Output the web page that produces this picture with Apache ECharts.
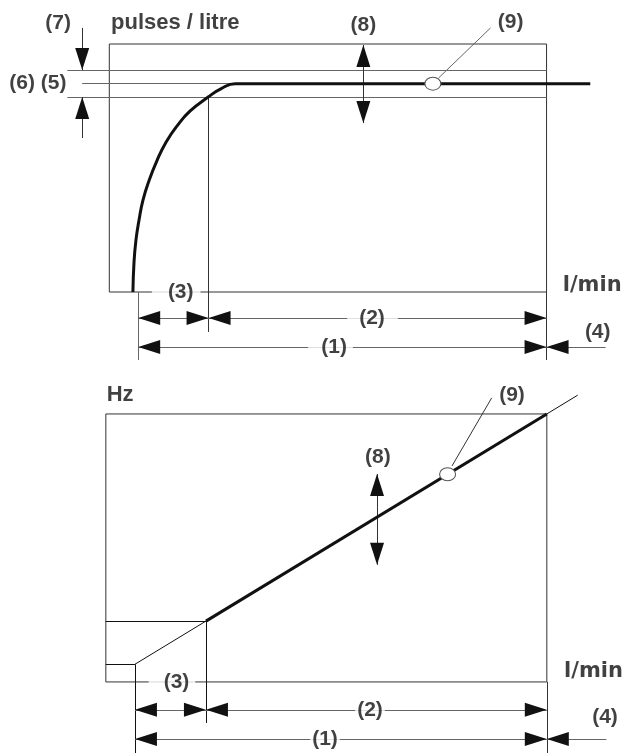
<!DOCTYPE html>
<html lang="en">
<head>
<meta charset="UTF-8">
<title>K-factor / frequency characteristic</title>
<style>
  html, body { margin: 0; height: 100%; background: #fff; }
  #main { width: 627px; height: 753px; }
</style>
<script src="https://cdn.jsdelivr.net/npm/echarts@6/dist/echarts.min.js"></script>
</head>
<body>
<div id="main"></div>
<script>
// flow in % of the box width (0 = left edge, 100 = Qmax)
const qMin = 6.6, qLin = 22.7, qMax = 100, qOver = 113.5

// upper chart: pulses / litre against flow
const kFlow = [5.4, 5.65, 6.1, 6.8, 7.7, 9.1, 10.9, 13, 15.5, 18.5, 22.6, 25.6, 28.8, 40, 110]
const kValue = [0, 12, 21, 29, 37, 45, 53, 60.5, 67, 73, 78.6, 82, 84, 84, 84]
const kNominal = 84, kHigh = 89.5, kLow = 78.6
const kCalib = [74, 84]

// lower chart: Hz against flow (thin - thick - thin)
const hzFlow = [6.6, 22.7, 100, 107]
const hzValue = [6.6, 22.7, 100, 107]
const hzCalib = [77.5, 77.5]

const box = [[0, 0], [0, 100], [100, 100], [100, 0], [0, 0]]

const DARK = '#333', GRAY = '#666', INK = '#111'
const FONT = 'Liberation Sans'

const seg = (x1, y1, x2, y2, color) => [{ coord: [x1, y1], lineStyle: { color } }, { coord: [x2, y2] }]
const ARROW = { left: [90, [11, 0]], right: [-90, [-11, 0]], up: [0, [0, 11]], down: [180, [0, -11]] }
const tip = (x, y, dir) => ({ value: [x, y], symbolRotate: ARROW[dir][0], symbolOffset: ARROW[dir][1] })
const text = (name, x, y, label) => ({ name, value: [x, y], label: label || {} })
const gap = (l, r) => ({ backgroundColor: '#fff', padding: [1, r, 1, l] })
const pairs = (xs, ys) => xs.map((x, i) => [x, ys[i]])

const topGuides = [
  seg(-9.6, kHigh, qMax, kHigh, GRAY),
  seg(-9.6, kLow, qMax, kLow, GRAY),
  seg(-6.2, kNominal, 28.8, kNominal, GRAY),
  seg(qLin, kLow, qLin, -16.1, DARK),
  seg(qMin, 0, qMin, -27.4, GRAY),
  seg(qMax, 0, qMax, -27.4, DARK),
  seg(qMin, -10.5, qMax, -10.5, GRAY),
  seg(qMin, -22.2, qMax, -22.2, GRAY),
  seg(qMax, -22.2, qOver, -22.2, GRAY),
  seg(-6.2, 106.5, -6.2, kHigh, DARK),
  seg(-6.2, 62.1, -6.2, kLow, DARK),
  seg(58.1, 99.6, 58.1, 68.1, DARK),
  seg(75.3, 86.3, 87.2, 106.5, GRAY)
]
const topArrows = [
  tip(qMin, -10.5, 'left'), tip(qLin, -10.5, 'right'),
  tip(qLin, -10.5, 'left'), tip(qMax, -10.5, 'right'),
  tip(qMin, -22.2, 'left'), tip(qMax, -22.2, 'right'),
  tip(qMax, -22.2, 'left'),
  tip(-6.2, kHigh, 'down'), tip(-6.2, kLow, 'up'),
  tip(58.1, 99.6, 'up'), tip(58.1, 68.1, 'down')
]
const topTexts = [
  text('pulses / litre', 0.4, 108.5, { align: 'left', fontSize: 22 }),
  text('l/min', 103.7, 2.8, { align: 'left', fontFamily: 'DejaVu Sans', fontSize: 21 }),
  text('(7)', -11.7, 108.5),
  text('(6) (5)', -9.8, kNominal, { align: 'right' }),
  text('(8)', 58.1, 107.7),
  text('(9)', 91.8, 108.9),
  text('(3)', 15.3, 0, gap(16, 7)),
  text('(2)', 60.2, -10.5, gap(12, 13)),
  text('(1)', 50.6, -22.2, gap(13, 6)),
  text('(4)', 111.7, -16.1)
]

const bottomGuides = [
  seg(0, hzValue[1], qLin, hzValue[1], INK),
  seg(0, hzValue[0], qMin, hzValue[0], INK),
  seg(qLin, hzValue[1], qLin, -15.3, INK),
  seg(qMin, hzValue[0], qMin, -27, INK),
  seg(qMax, 0, qMax, -27, DARK),
  seg(qMin, -10.4, qMax, -10.4, GRAY),
  seg(qMin, -21.3, qMax, -21.3, GRAY),
  seg(qMax, -21.3, qOver, -21.3, GRAY),
  seg(61.5, 77.6, 61.5, 43.7, DARK),
  seg(78.5, 80.6, 87.5, 106, DARK)
]
const bottomArrows = [
  tip(qMin, -10.4, 'left'), tip(qLin, -10.4, 'right'),
  tip(qLin, -10.4, 'left'), tip(qMax, -10.4, 'right'),
  tip(qMin, -21.3, 'left'), tip(qMax, -21.3, 'right'),
  tip(qMax, -21.3, 'left'),
  tip(61.5, 77.6, 'up'), tip(61.5, 43.7, 'down')
]
const bottomTexts = [
  text('Hz', 0.2, 107.1, { align: 'left', fontSize: 22 }),
  text('l/min', 103.9, 3.7, { align: 'left', fontFamily: 'DejaVu Sans', fontSize: 21 }),
  text('(8)', 61.7, 84),
  text('(9)', 92.1, 107.1),
  text('(3)', 15, 0, gap(15, 6)),
  text('(2)', 59.9, -10.4, gap(2, 2)),
  text('(1)', 49.7, -21.3, gap(2, 2)),
  text('(4)', 113.2, -13.1)
]

function chartSeries (i, guides, arrows, texts, calib) {
  return [
    {
      type: 'line', xAxisIndex: i, yAxisIndex: i, data: box, symbol: 'none', clip: false, silent: true,
      lineStyle: { color: DARK, width: 1 },
      markLine: {
        silent: true, symbol: 'none', label: { show: false },
        lineStyle: { type: 'solid', width: 1, color: GRAY },
        data: guides
      }
    },
    {
      type: 'scatter', xAxisIndex: i, yAxisIndex: i, data: arrows, silent: true, z: 8,
      symbol: 'triangle', symbolSize: [14, 22], itemStyle: { color: INK, opacity: 1 }
    },
    {
      type: 'scatter', xAxisIndex: i, yAxisIndex: i, data: [calib], silent: true, z: 12,
      symbol: 'circle', symbolSize: [16, 13],
      itemStyle: { color: '#fff', borderColor: '#555', borderWidth: 1, opacity: 1 }
    },
    {
      type: 'scatter', xAxisIndex: i, yAxisIndex: i, data: texts, silent: true, z: 20,
      symbolSize: 1, itemStyle: { color: 'transparent' },
      label: {
        show: true, position: 'inside', formatter: '{b}', color: INK,
        fontFamily: FONT, fontWeight: 'bold', fontSize: 21
      }
    }
  ]
}

const myChart = echarts.init(document.getElementById('main'), null, { renderer: 'canvas' })

myChart.setOption({
  animation: false,
  backgroundColor: '#fff',
  grid: [
    { left: 0, top: 6.8, width: 634, height: 359.6, outerBoundsMode: 'none' },
    { left: 0, top: 381.8, width: 630.6, height: 372.5, outerBoundsMode: 'none' }
  ],
  xAxis: [
    { gridIndex: 0, type: 'value', min: -25, max: 120, show: false },
    { gridIndex: 1, type: 'value', min: -24, max: 119, show: false }
  ],
  yAxis: [
    { gridIndex: 0, type: 'value', min: -30, max: 115, show: false },
    { gridIndex: 1, type: 'value', min: -27, max: 112, show: false }
  ],
  series: [
    ...chartSeries(0, topGuides, topArrows, topTexts, kCalib),
    {
      type: 'line', xAxisIndex: 0, yAxisIndex: 0, data: pairs(kFlow, kValue),
      symbol: 'none', smooth: 0.5, clip: false, silent: true, z: 5,
      lineStyle: { color: INK, width: 3 }
    },
    ...chartSeries(1, bottomGuides, bottomArrows, bottomTexts, hzCalib),
    {
      type: 'line', xAxisIndex: 1, yAxisIndex: 1, data: pairs(hzFlow, hzValue).slice(0, 2),
      symbol: 'none', clip: false, silent: true, z: 5, lineStyle: { color: INK, width: 1 }
    },
    {
      type: 'line', xAxisIndex: 1, yAxisIndex: 1, data: pairs(hzFlow, hzValue).slice(1, 3),
      symbol: 'none', clip: false, silent: true, z: 5, lineStyle: { color: INK, width: 3 }
    },
    {
      type: 'line', xAxisIndex: 1, yAxisIndex: 1, data: pairs(hzFlow, hzValue).slice(2, 4),
      symbol: 'none', clip: false, silent: true, z: 5, lineStyle: { color: INK, width: 1 }
    }
  ]
})
</script>
</body>
</html>
